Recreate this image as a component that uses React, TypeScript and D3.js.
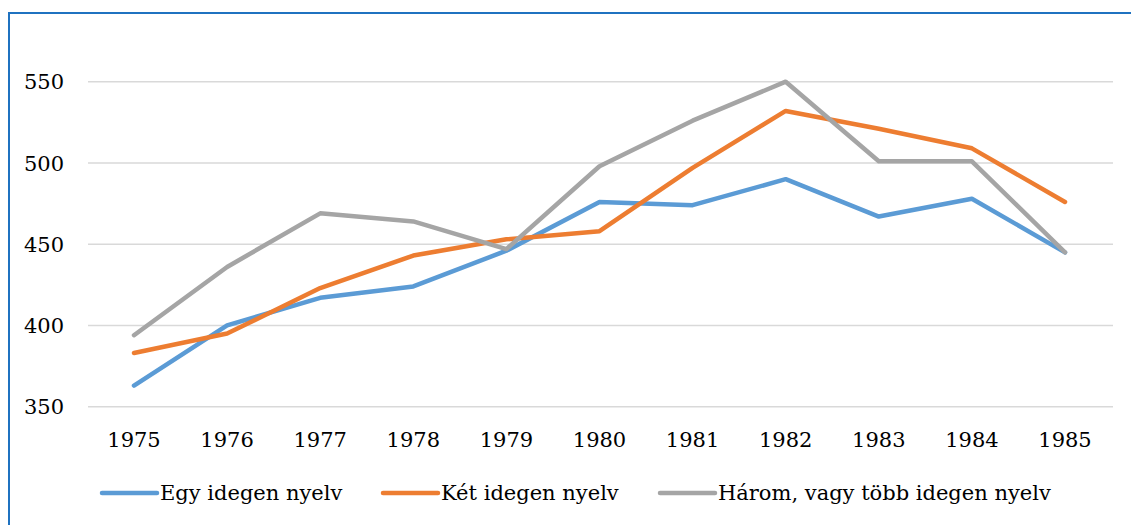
import React from "react";
import * as d3 from "d3";

const years = [1975, 1976, 1977, 1978, 1979, 1980, 1981, 1982, 1983, 1984, 1985];
const egy = [363, 400, 417, 424, 446, 476, 474, 490, 467, 478, 445];
const ket = [383, 395, 423, 443, 453, 458, 497, 532, 521, 509, 476];
const harom = [394, 436, 469, 464, 447, 498, 526, 550, 501, 501, 445];
const yTicks = [350, 400, 450, 500, 550];
const seriesNames = ["Egy idegen nyelv", "Két idegen nyelv", "Három, vagy több idegen nyelv"];
const colors = ["#5B9BD5", "#ED7D31", "#A5A5A5"];

export default function App() {
  const W = 1131, H = 525;
  const x = d3.scaleLinear().domain([1975, 1985]).range([134, 1065]);
  const y = d3.scaleLinear().domain([350, 550]).range([406.7, 81.7]);
  const line = d3.line<number>().x((_, i) => x(years[i])).y((d) => y(d));
  const series = [egy, ket, harom];
  const legendX = [102, 383, 660];
  return (
    <svg width={W} height={H} style={{ position: "absolute", left: 0, top: 0, background: "#fff" }}>
      <rect x={9} y={13} width={W + 20} height={H + 20} fill="none" stroke="#1F72C0" strokeWidth={2} />
      <g fontFamily="DejaVu Serif" fontSize={21} fill="#000">
        {yTicks.map((t) => (
          <g key={t}>
            <line x1={88} x2={1113} y1={y(t)} y2={y(t)} stroke="#D9D9D9" strokeWidth={1.5} />
            <text x={64} y={y(t)} dy="0.36em" textAnchor="end">
              {t}
            </text>
          </g>
        ))}
        {years.map((yr) => (
          <text key={yr} x={x(yr)} y={447} textAnchor="middle">
            {yr}
          </text>
        ))}
        {series.map((s, i) => (
          <path key={i} d={line(s) || ""} fill="none" stroke={colors[i]} strokeWidth={4.5}
            strokeLinecap="round" strokeLinejoin="round" />
        ))}
        {seriesNames.map((n, i) => (
          <g key={n}>
            <line x1={legendX[i]} x2={legendX[i] + 55} y1={493} y2={493} stroke={colors[i]} strokeWidth={4.5} strokeLinecap="round" />
            <text x={legendX[i] + 58} y={493} dy="0.35em">
              {n}
            </text>
          </g>
        ))}
      </g>
    </svg>
  );
}
